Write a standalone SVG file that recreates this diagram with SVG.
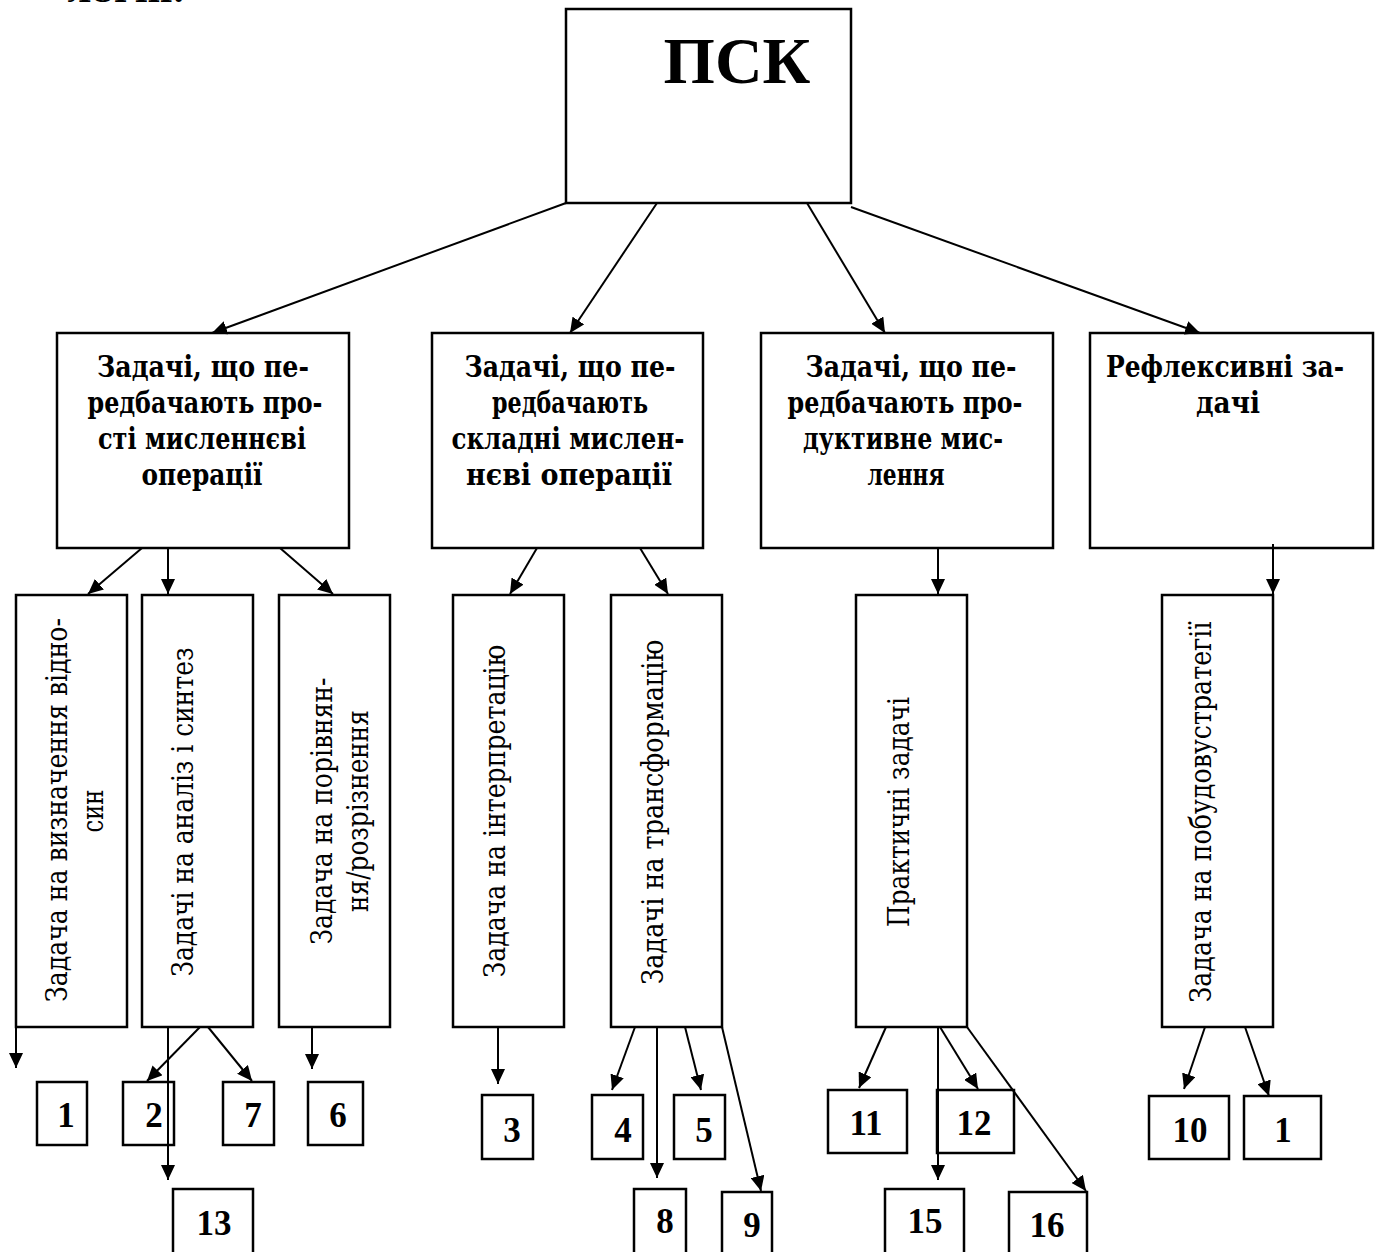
<svg xmlns="http://www.w3.org/2000/svg" width="1378" height="1252" viewBox="0 0 1378 1252">
  <style>
    .box { fill: #fff; stroke: #000; stroke-width: 2.5; }
    .link { stroke: #000; stroke-width: 2; fill: none; marker-end: url(#arrow); }
    .serif { font-family: "DejaVu Serif", "Liberation Serif", serif; fill: #000; }
    .head { font-weight: bold; font-size: 30px; text-anchor: middle; }
    .title { font-family: "Liberation Serif", serif; font-weight: bold; font-size: 66px; text-anchor: middle; }
    .vert { font-size: 30px; text-anchor: middle; }
    .num { font-family: "Liberation Serif", serif; font-weight: bold; font-size: 35px; text-anchor: middle; }
  </style>
  <defs>
    <marker id="arrow" markerUnits="userSpaceOnUse" markerWidth="16" markerHeight="14" refX="15" refY="7" orient="auto">
      <path d="M0,0 L15,7 L0,14 z" fill="#000"/>
    </marker>
  </defs>
  <rect width="1378" height="1252" fill="#fff"/>

  <!-- tail of the preceding paragraph -->
  <text class="serif head" x="126" y="2" textLength="117" lengthAdjust="spacingAndGlyphs">логій.</text>

  <!-- root -->
  <g id="root">
    <rect class="box" x="566" y="9" width="285" height="194"/>
    <text class="title" x="737" y="83">ПСК</text>
  </g>

  <!-- first level -->
  <g id="simple-ops">
    <rect class="box" x="57" y="333" width="292" height="215"/>
    <text class="serif head" x="203" y="377" textLength="212" lengthAdjust="spacingAndGlyphs">Задачі, що пе-</text>
    <text class="serif head" x="205" y="413" textLength="235" lengthAdjust="spacingAndGlyphs">редбачають про-</text>
    <text class="serif head" x="202" y="449" textLength="208" lengthAdjust="spacingAndGlyphs">сті мисленнєві</text>
    <text class="serif head" x="202" y="485" textLength="121" lengthAdjust="spacingAndGlyphs">операції</text>
  </g>
  <g id="complex-ops">
    <rect class="box" x="432" y="333" width="271" height="215"/>
    <text class="serif head" x="570" y="377" textLength="211" lengthAdjust="spacingAndGlyphs">Задачі, що пе-</text>
    <text class="serif head" x="570" y="413" textLength="156" lengthAdjust="spacingAndGlyphs">редбачають</text>
    <text class="serif head" x="568" y="449" textLength="233" lengthAdjust="spacingAndGlyphs">складні мислен-</text>
    <text class="serif head" x="569" y="485" textLength="206" lengthAdjust="spacingAndGlyphs">нєві операції</text>
  </g>
  <g id="productive">
    <rect class="box" x="761" y="333" width="292" height="215"/>
    <text class="serif head" x="911" y="377" textLength="211" lengthAdjust="spacingAndGlyphs">Задачі, що пе-</text>
    <text class="serif head" x="905" y="413" textLength="235" lengthAdjust="spacingAndGlyphs">редбачають про-</text>
    <text class="serif head" x="903" y="449" textLength="200" lengthAdjust="spacingAndGlyphs">дуктивне мис-</text>
    <text class="serif head" x="906" y="485" textLength="77" lengthAdjust="spacingAndGlyphs">лення</text>
  </g>
  <g id="reflexive">
    <rect class="box" x="1090" y="333" width="283" height="215"/>
    <text class="serif head" x="1225" y="377" textLength="238" lengthAdjust="spacingAndGlyphs">Рефлексивні за-</text>
    <text class="serif head" x="1228" y="413" textLength="64" lengthAdjust="spacingAndGlyphs">дачі</text>
  </g>

  <!-- second level (vertical captions) -->
  <g id="relations">
    <rect class="box" x="16" y="595" width="111" height="432"/>
    <text class="serif vert" transform="translate(67,810) rotate(-90)" textLength="384" lengthAdjust="spacingAndGlyphs">Задача на визначення відно-</text>
    <text class="serif vert" transform="translate(103,811) rotate(-90)" textLength="43" lengthAdjust="spacingAndGlyphs">син</text>
  </g>
  <g id="analysis">
    <rect class="box" x="142" y="595" width="111" height="432"/>
    <text class="serif vert" transform="translate(193,812) rotate(-90)" textLength="329" lengthAdjust="spacingAndGlyphs">Задачі на аналіз і синтез</text>
  </g>
  <g id="comparison">
    <rect class="box" x="279" y="595" width="111" height="432"/>
    <text class="serif vert" transform="translate(332,811) rotate(-90)" textLength="267" lengthAdjust="spacingAndGlyphs">Задача на порівнян-</text>
    <text class="serif vert" transform="translate(368,811) rotate(-90)" textLength="202" lengthAdjust="spacingAndGlyphs">ня/розрізнення</text>
  </g>
  <g id="interpretation">
    <rect class="box" x="453" y="595" width="111" height="432"/>
    <text class="serif vert" transform="translate(505,811) rotate(-90)" textLength="333" lengthAdjust="spacingAndGlyphs">Задача на інтерпретацію</text>
  </g>
  <g id="transformation">
    <rect class="box" x="611" y="595" width="111" height="432"/>
    <text class="serif vert" transform="translate(663,812) rotate(-90)" textLength="345" lengthAdjust="spacingAndGlyphs">Задачі на трансформацію</text>
  </g>
  <g id="practical">
    <rect class="box" x="856" y="595" width="111" height="432"/>
    <text class="serif vert" transform="translate(909,812) rotate(-90)" textLength="230" lengthAdjust="spacingAndGlyphs">Практичні задачі</text>
  </g>
  <g id="strategy">
    <rect class="box" x="1162" y="595" width="111" height="432"/>
    <text class="serif vert" transform="translate(1211,812) rotate(-90)" textLength="381" lengthAdjust="spacingAndGlyphs">Задача на побудовустратегії</text>
  </g>

  <!-- numbered tasks -->
  <g id="n1"><rect class="box" x="37" y="1082" width="50" height="63"/><text class="num" x="66" y="1127">1</text></g>
  <g id="n2"><rect class="box" x="123" y="1082" width="51" height="63"/><text class="num" x="154" y="1127">2</text></g>
  <g id="n7"><rect class="box" x="223" y="1082" width="51" height="63"/><text class="num" x="253" y="1127">7</text></g>
  <g id="n6"><rect class="box" x="308" y="1082" width="55" height="63"/><text class="num" x="338" y="1127">6</text></g>
  <g id="n13"><rect class="box" x="173" y="1189" width="80" height="80"/><text class="num" x="214" y="1235">13</text></g>
  <g id="n3"><rect class="box" x="482" y="1095" width="51" height="64"/><text class="num" x="512" y="1142">3</text></g>
  <g id="n4"><rect class="box" x="592" y="1095" width="51" height="64"/><text class="num" x="623" y="1142">4</text></g>
  <g id="n5"><rect class="box" x="674" y="1095" width="51" height="64"/><text class="num" x="704" y="1142">5</text></g>
  <g id="n8"><rect class="box" x="634" y="1189" width="52" height="80"/><text class="num" x="665" y="1233">8</text></g>
  <g id="n9"><rect class="box" x="722" y="1192" width="50" height="80"/><text class="num" x="752" y="1237">9</text></g>
  <g id="n11"><rect class="box" x="828" y="1090" width="79" height="63"/><text class="num" x="866" y="1135">11</text></g>
  <g id="n12"><rect class="box" x="937" y="1090" width="77" height="63"/><text class="num" x="974" y="1135">12</text></g>
  <g id="n15"><rect class="box" x="885" y="1189" width="79" height="80"/><text class="num" x="925" y="1233">15</text></g>
  <g id="n16"><rect class="box" x="1009" y="1192" width="78" height="80"/><text class="num" x="1047" y="1237">16</text></g>
  <g id="n10"><rect class="box" x="1149" y="1096" width="80" height="63"/><text class="num" x="1190" y="1142">10</text></g>
  <g id="n1b"><rect class="box" x="1244" y="1096" width="77" height="63"/><text class="num" x="1283" y="1142">1</text></g>

  <!-- connectors -->
  <g id="connectors">
    <line class="link" x1="566" y1="203" x2="212" y2="333"/>
    <line class="link" x1="657" y1="203" x2="570" y2="333"/>
    <line class="link" x1="807" y1="203" x2="885" y2="333"/>
    <line class="link" x1="851" y1="207" x2="1200" y2="333"/>

    <line class="link" x1="142" y1="548" x2="88" y2="594"/>
    <line class="link" x1="168" y1="548" x2="168" y2="594"/>
    <line class="link" x1="280" y1="548" x2="333" y2="594"/>
    <line class="link" x1="537" y1="548" x2="510" y2="594"/>
    <line class="link" x1="640" y1="548" x2="668" y2="594"/>
    <line class="link" x1="938" y1="548" x2="938" y2="594"/>
    <line class="link" x1="1273" y1="544" x2="1273" y2="594"/>

    <line class="link" x1="16" y1="1020" x2="16" y2="1068"/>
    <line class="link" x1="168" y1="1027" x2="168" y2="1180"/>
    <line class="link" x1="200" y1="1027" x2="147" y2="1081"/>
    <line class="link" x1="208" y1="1027" x2="252" y2="1081"/>
    <line class="link" x1="312" y1="1027" x2="312" y2="1069"/>

    <line class="link" x1="498" y1="1027" x2="498" y2="1084"/>
    <line class="link" x1="635" y1="1027" x2="612" y2="1090"/>
    <line class="link" x1="657" y1="1027" x2="657" y2="1178"/>
    <line class="link" x1="685" y1="1027" x2="701" y2="1090"/>
    <line class="link" x1="722" y1="1027" x2="761" y2="1191"/>

    <line class="link" x1="886" y1="1027" x2="859" y2="1088"/>
    <line class="link" x1="938" y1="1027" x2="938" y2="1180"/>
    <line class="link" x1="940" y1="1027" x2="978" y2="1089"/>
    <line class="link" x1="967" y1="1027" x2="1086" y2="1191"/>
    <line class="link" x1="1205" y1="1027" x2="1184" y2="1089"/>
    <line class="link" x1="1245" y1="1027" x2="1269" y2="1096"/>
  </g>
</svg>
